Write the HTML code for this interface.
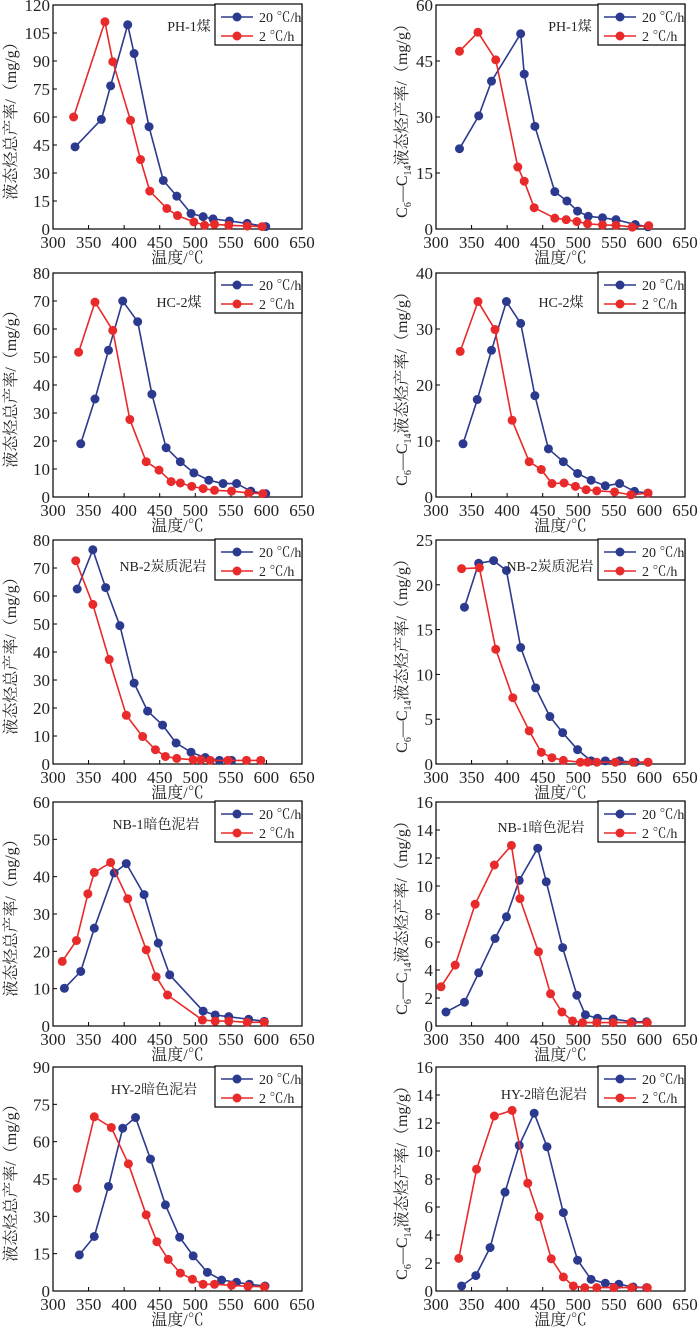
<!DOCTYPE html>
<html><head><meta charset="utf-8">
<style>
html,body{margin:0;padding:0;background:#fff;}
svg{display:block;font-family:"Liberation Serif","Noto Serif CJK SC","Noto Sans CJK SC",serif;}
</style></head>
<body>
<svg id="fig" width="700" height="1327" viewBox="0 0 700 1327" xmlns="http://www.w3.org/2000/svg"></svg>
<script>
// ---- data ----
const panelSamples = ["PH-1煤","PH-1煤","HC-2煤","HC-2煤","NB-2炭质泥岩","NB-2炭质泥岩","NB-1暗色泥岩","NB-1暗色泥岩","HY-2暗色泥岩","HY-2暗色泥岩"];
const yMaxes = [120,60,80,40,80,25,60,16,90,16];
const yStepTicks = [15,15,10,10,10,5,10,2,15,2];
const xTicks = [300,350,400,450,500,550,600,650];
const seriesNames = ["20 ℃/h","2 ℃/h"];

const p1BlueT = [331,368,381,405,414,435,455,474,494,511,525,548,573,599];
const p1BlueV = [44,58.7,76.7,109.4,94,54.8,26,17.6,8.3,6.6,5.4,4.3,3,1.3];
const p1RedT  = [329,373,384,409,423,436,460,475,498,513,527,547,573,594];
const p1RedV  = [60,111,89.6,58.2,37.2,20.3,11,7.2,3.8,2,2.5,2,1.6,1.3];

const p2BlueT = [333,360,378,419,424,439,467,484,499,514,534,553,580,598];
const p2BlueV = [21.5,30.3,39.6,52.3,41.5,27.5,10,7.5,4.8,3.4,3,2.5,1.2,0.6];
const p2RedT  = [333,359,384,415,424,438,467,483,498,513,534,553,576,599];
const p2RedV  = [47.6,52.7,45.3,16.6,12.8,5.7,2.9,2.5,2,1.4,1.1,1,0.5,0.9];

const p3BlueT = [339,359,378,398,419,439,459,479,498,519,539,558,578,599];
const p3BlueV = [19,35,52.4,70,62.6,36.7,17.6,12.6,8.6,6,4.8,4.8,2.1,1.2];
const p3RedT  = [336,359,384,408,431,449,466,479,495,511,527,551,575,595];
const p3RedV  = [51.7,69.6,59.5,27.7,12.6,9.6,5.5,5,3.8,3,2.4,2.1,1.4,1.2];

const p4BlueT = [338,358,378,399,419,439,458,479,499,518,538,558,579,598];
const p4BlueV = [9.5,17.4,26.2,34.9,31,18.1,8.6,6.3,4.2,3,2,2.4,1,0.7];
const p4RedT  = [334,359,383,407,431,448,463,480,496,511,526,551,574,598];
const p4RedV  = [26,34.9,29.9,13.7,6.3,4.9,2.4,2.5,1.9,1.3,1.1,0.9,0.4,0.7];

const p5BlueT = [334,356,374,394,414,433,454,473,494,514,534,551];
const p5BlueV = [62.5,76.5,63,49.4,28.9,18.9,13.9,7.5,4.2,2.3,1.3,1.3];
const p5RedT  = [332,356,379,403,426,444,458,474,497,508,521,546,572,592];
const p5RedV  = [72.6,57,37.3,17.4,9.8,5.1,2.7,2,1.5,1.5,1.3,1.3,1.3,1.3];

const p6BlueT = [340,360,381,399,419,440,460,478,499,518,538,558,580,598];
const p6BlueV = [17.5,22.4,22.7,21.6,13,8.5,5.3,3.5,1.6,0.35,0.35,0.35,0.2,0.2];
const p6RedT  = [336,361,384,408,431,448,463,479,503,513,526,552,577,598];
const p6RedV  = [21.8,21.9,12.8,7.4,3.7,1.3,0.7,0.4,0.2,0.2,0.2,0.2,0.2,0.2];

const p7BlueT = [316,339,358,386,403,428,448,464,511,528,547,575,597];
const p7BlueV = [10.1,14.6,26.2,41,43.5,35.2,22.2,13.7,4,2.95,2.5,1.8,1.25];
const p7RedT  = [313,333,349,358,381,405,431,445,461,510,528,547,573,597];
const p7RedV  = [17.3,22.9,35.4,41.1,43.8,34.1,20.4,13.2,8.3,1.6,1.3,1.3,1,1];

const p8BlueT = [314,340,360,383,399,417,443,455,478,498,510,527,549,576,596];
const p8BlueV = [1,1.7,3.8,6.25,7.8,10.4,12.7,10.3,5.6,2.2,0.8,0.55,0.5,0.3,0.3];
const p8RedT  = [307,327,355,382,406,418,444,461,477,492,506,526,549,574,597];
const p8RedV  = [2.8,4.35,8.7,11.5,12.9,9.1,5.3,2.3,1,0.36,0.24,0.24,0.24,0.24,0.24];

const p9BlueT = [337,358,378,398,416,437,458,478,497,517,537,558,576,598];
const p9BlueV = [14.5,21.9,42,65.4,69.7,53,34.6,21.6,14.1,7.5,4.4,3.5,2.7,2];
const p9RedT  = [334,358,382,406,431,446,462,479,496,511,527,551,574,597];
const p9RedV  = [41.3,70,65.7,51.1,30.6,19.8,12.7,7.2,4.7,2.7,2.7,2.3,1.9,1.7];

const p10BlueT = [336,356,376,397,417,438,456,479,499,518,538,557,577,596];
const p10BlueV = [0.36,1.1,3.1,7.06,10.4,12.7,10.3,5.6,2.2,0.83,0.55,0.48,0.29,0.24];
const p10RedT  = [332,357,382,407,429,445,462,479,493,509,526,550,575,597];
const p10RedV  = [2.33,8.7,12.5,12.9,7.7,5.3,2.3,1,0.36,0.24,0.24,0.24,0.24,0.24];

const blueT=[p1BlueT,p2BlueT,p3BlueT,p4BlueT,p5BlueT,p6BlueT,p7BlueT,p8BlueT,p9BlueT,p10BlueT];
const blueV=[p1BlueV,p2BlueV,p3BlueV,p4BlueV,p5BlueV,p6BlueV,p7BlueV,p8BlueV,p9BlueV,p10BlueV];
const redT=[p1RedT,p2RedT,p3RedT,p4RedT,p5RedT,p6RedT,p7RedT,p8RedT,p9RedT,p10RedT];
const redV=[p1RedV,p2RedV,p3RedV,p4RedV,p5RedV,p6RedV,p7RedV,p8RedV,p9RedV,p10RedV];

// ---- drawing ----
const NS="http://www.w3.org/2000/svg";
const svg=document.getElementById('fig');
const BLUE="#2b3a8e", RED="#e82a2a";
const tops=[5,273,540,802,1067], PH=224;
const lefts=[53,436], PW=249;
function mk(tag,attrs,parent){const e=document.createElementNS(NS,tag);for(const k in attrs)e.setAttribute(k,attrs[k]);(parent||svg).appendChild(e);return e;}

for(let i=0;i<10;i++){
  const row=Math.floor(i/2), col=i%2;
  const x0=lefts[col], y0=tops[row];
  const xs=t=>x0+(t-300)/350*PW;
  const ys=v=>y0+PH-v/yMaxes[i]*PH;
  const g=mk('g',{});
  
  
  const yt=mk('g',{},g);
  
  
  for(let v=0;v<=yMaxes[i]+1e-9;v+=yStepTicks[i]){
    const y=ys(v);
    mk('line',{x1:x0,x2:x0+4,y1:y,y2:y,stroke:'#000','stroke-width':1},yt);
    const t=mk('text',{x:x0-3,y:y+6,'text-anchor':'end','font-size':17,fill:'#222'},yt);
    t.textContent=v;
  }
  const xt=mk('g',{},g);
  
  
  xTicks.forEach(tv=>{
    const x=xs(tv);
    mk('line',{x1:x,x2:x,y1:y0+PH,y2:y0+PH-4,stroke:'#000','stroke-width':1},xt);
    const t=mk('text',{x:x,y:y0+PH+19,'text-anchor':'middle','font-size':17,fill:'#222'},xt);
    t.textContent=tv;
  });
  const fr=mk('rect',{x:x0,y:y0,width:PW,height:PH,fill:'none',stroke:'#000','stroke-width':1.2},g);
  
  
  const xtt=mk('text',{x:x0+PW/2,y:y0+PH+34,'text-anchor':'middle','font-size':16,fill:'#222'},g);
  xtt.textContent='温度/℃';
  
  
  const cy=y0+PH/2, tx=col===0?x0-37:x0-29;
  const ytt=mk('text',{x:tx,y:cy,'text-anchor':'middle','font-size':16,fill:'#222',transform:`rotate(-90 ${tx} ${cy})`},g);
  if(col===0){ytt.textContent='液态烃总产率/（mg/g）';}
  else{ytt.innerHTML='C<tspan font-size="10" dy="4">6</tspan><tspan dy="-4">—C</tspan><tspan font-size="10" dy="4">14</tspan><tspan dy="-4">液态烃产率/（mg/g）</tspan>';}
  
  
  [[blueT[i],blueV[i],BLUE,'series-20c-per-h'],[redT[i],redV[i],RED,'series-2c-per-h']].forEach(([T,V,c,nm])=>{
    const sg=mk('g',{},g);
    
    
    const pts=T.map((t,k)=>xs(t).toFixed(1)+','+ys(V[k]).toFixed(1)).join(' ');
    const pl=mk('polyline',{points:pts,fill:'none',stroke:c,'stroke-width':1.6,'stroke-linejoin':'round'},sg);
    
    
    T.forEach((t,k)=>{
      const m=mk('circle',{cx:xs(t),cy:ys(V[k]),r:4.5,fill:c},sg);
      
      
    });
  });
  const lx=[189,570,179,561,163,550,156,541,154,544][i];
  const ly=[26,26,34,34,31,31,27,30,27,32][i]+y0-5;
  const sl=mk('text',{x:lx,y:ly+5,'text-anchor':'middle','font-size':14,fill:'#222'},g);
  sl.textContent=panelSamples[i];
  
  
  const lg=mk('g',{},g);
  
  
  const bx=x0+PW-87, by=y0-1;
  mk('rect',{x:bx,y:by,width:87,height:41,fill:'#fff',stroke:'#000','stroke-width':1.2},lg);
  [[BLUE,seriesNames[0],13],[RED,seriesNames[1],32]].forEach(([c,txt,dy])=>{
    const le=mk('g',{},lg);
    
    
    mk('line',{x1:bx+6,x2:bx+38,y1:by+dy,y2:by+dy,stroke:c,'stroke-width':1.6},le);
    mk('circle',{cx:bx+22,cy:by+dy,r:4.5,fill:c},le);
    const t=mk('text',{x:bx+44,y:by+dy+5,'font-size':14,fill:'#222'},le);
    t.textContent=txt;
  });
}
</script>
</body></html>
